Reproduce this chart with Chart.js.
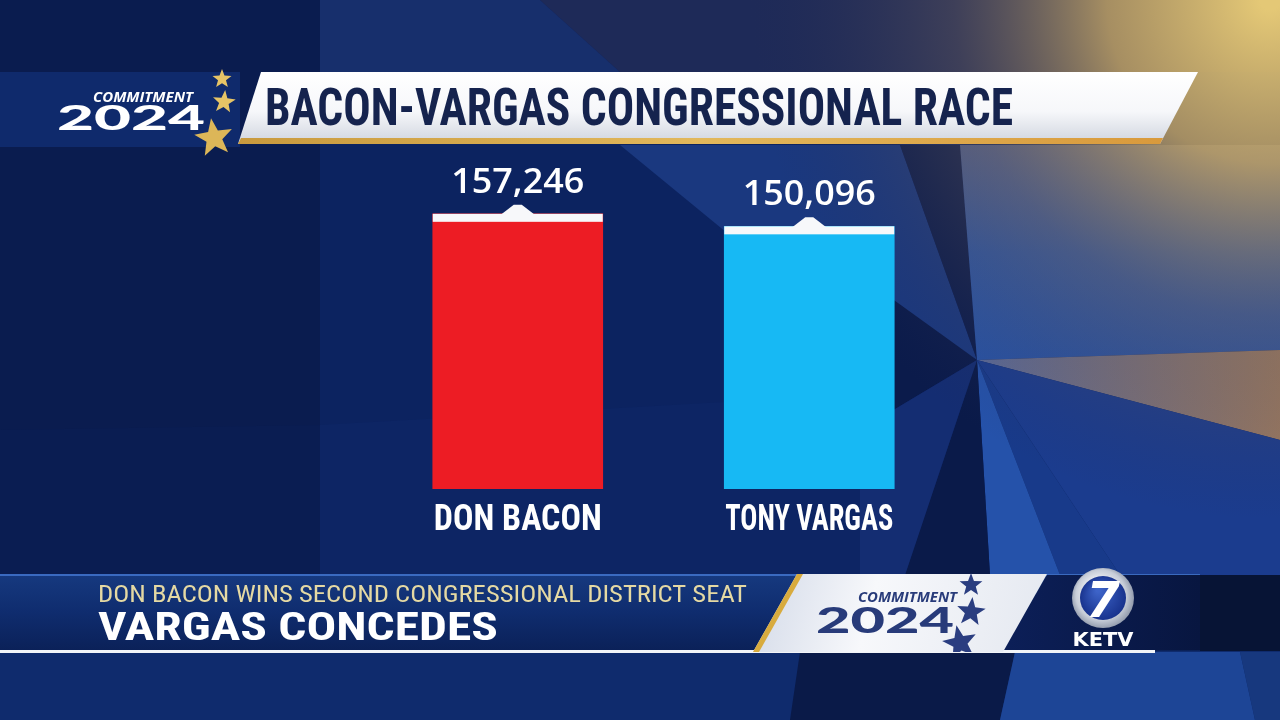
<!DOCTYPE html>
<html>
<head>
<meta charset="utf-8">
<title>Bacon-Vargas Congressional Race</title>
<script src="https://cdn.jsdelivr.net/npm/chart.js@4"></script>
<style>
  html, body { margin: 0; padding: 0; background: #0b2058; overflow: hidden; }
  canvas { display: block; }
</style>
</head>
<body>
<canvas id="myChart" width="1280" height="720"></canvas>
<script>
// dados do grafico
const candidatos = ['DON BACON', 'TONY VARGAS']
const votos = [157246, 150096]
const cores = ['#ED1C24', '#17B9F4']

const titulo = 'BACON-VARGAS CONGRESSIONAL RACE'
const manchete = 'DON BACON WINS SECOND CONGRESSIONAL DISTRICT SEAT'
const subtitulo = 'VARGAS CONCEDES'

const NARROW = "'Liberation Sans Narrow', 'Roboto Condensed', 'DejaVu Sans Condensed', sans-serif"

function poly(c, pts, fill) {
  c.beginPath()
  c.moveTo(pts[0][0], pts[0][1])
  for (let i = 1; i < pts.length; i++) c.lineTo(pts[i][0], pts[i][1])
  c.closePath()
  c.fillStyle = fill
  c.fill()
}

// texto ajustado a uma largura
function fitText(c, text, x, y, w, font, color, align) {
  c.save()
  c.font = font
  c.textBaseline = 'alphabetic'
  c.textAlign = align || 'left'
  const m = c.measureText(text).width
  c.translate(x, y)
  c.scale(w / m, 1)
  c.fillStyle = color
  c.fillText(text, 0, 0)
  c.restore()
}

function star(c, cx, cy, r, fill, rot) {
  const pts = []
  for (let i = 0; i < 10; i++) {
    const a = -Math.PI / 2 + (rot || 0) + i * Math.PI / 5
    const rr = i % 2 === 0 ? r : r * 0.42
    pts.push([cx + rr * Math.cos(a), cy + rr * Math.sin(a)])
  }
  poly(c, pts, fill)
}

const fundo = {
  id: 'fundo',
  beforeDraw(chart) {
    const c = chart.ctx
    c.save()
    // base
    c.fillStyle = '#0c2360'
    c.fillRect(0, 0, 1280, 720)
    c.fillStyle = '#0a1c4f'
    c.fillRect(0, 0, 320, 720)

    // top shards
    poly(c, [[320, 0], [540, 0], [620, 72], [320, 72]], '#172f6c')
    poly(c, [[540, 0], [1280, 0], [1280, 72], [620, 72]], '#1e2a58')

    // floor
    poly(c, [[320, 425], [760, 400], [977, 360], [900, 575], [320, 575]], '#0d2564')
    poly(c, [[0, 430], [320, 425], [320, 575], [0, 575]], '#0a1d52')

    // shards around bars
    poly(c, [[620, 145], [900, 145], [977, 360], [760, 260]], '#1a387f')
    poly(c, [[900, 145], [960, 145], [977, 360]], '#0c1c4c')
    poly(c, [[880, 290], [977, 360], [860, 430], [800, 380]], '#0b1b4b')

    // starburst
    const O = [977, 360]
    let g = c.createLinearGradient(0, 145, 0, 360)
    g.addColorStop(0, '#4f6090')
    g.addColorStop(0.5, '#2f57a4')
    g.addColorStop(1, '#2853a6')
    poly(c, [O, [960, 145], [1280, 145], [1280, 350]], g)
    g = c.createLinearGradient(977, 0, 1280, 0)
    g.addColorStop(0, '#5a6a9a')
    g.addColorStop(1, '#a07d62')
    poly(c, [O, [1280, 350], [1280, 440]], g)
    poly(c, [O, [1280, 440], [1280, 575], [1120, 575]], '#1b3c8e')
    poly(c, [O, [1120, 575], [1060, 575]], '#183a8a')
    poly(c, [O, [1060, 575], [990, 575]], '#2552aa')
    poly(c, [O, [990, 575], [905, 575]], '#0a1a49')
    poly(c, [O, [905, 575], [860, 575], [860, 430]], '#142d72')

    // bottom strip
    c.fillStyle = '#0f2b6d'
    c.fillRect(0, 650, 1280, 70)
    poly(c, [[800, 652], [1015, 652], [1000, 720], [790, 720]], '#0a1a48')
    poly(c, [[1015, 652], [1240, 652], [1255, 720], [1000, 720]], '#1d4596')
    poly(c, [[1240, 652], [1280, 652], [1280, 720], [1255, 720]], '#17387e')

    // gold glow top right
    g = c.createRadialGradient(1270, 0, 10, 1270, 0, 520)
    g.addColorStop(0, 'rgba(228,200,118,1)')
    g.addColorStop(0.3, 'rgba(190,160,100,0.85)')
    g.addColorStop(0.6, 'rgba(110,95,90,0.4)')
    g.addColorStop(1, 'rgba(40,45,80,0)')
    c.fillStyle = g
    c.fillRect(0, 0, 1280, 720)

    // title band
    c.fillStyle = '#0f2a6c'
    c.fillRect(0, 72, 240, 75)
    g = c.createLinearGradient(0, 72, 0, 144)
    g.addColorStop(0, '#ffffff')
    g.addColorStop(0.55, '#f6f7fa')
    g.addColorStop(1, '#cfd4de')
    poly(c, [[261, 72], [1198, 72], [1160, 144], [238, 144]], g)
    g = c.createLinearGradient(240, 0, 1160, 0)
    g.addColorStop(0, '#c99a3e')
    g.addColorStop(0.5, '#e2b85c')
    g.addColorStop(1, '#d99a3c')
    poly(c, [[241, 138], [1163, 138], [1160, 144], [238, 144]], g)
    fitText(c, titulo, 265, 125, 748, 'bold 51px ' + NARROW, '#15234e')

    // logo commitment 2024
    fitText(c, 'COMMITMENT', 93, 102, 100, 'italic bold 15px "Open Sans"', '#ffffff')
    fitText(c, '2024', 57, 130, 148, '900 34px Lato', '#ffffff')
    star(c, 222, 79, 10, '#e6c466')
    star(c, 224, 102, 12, '#e6c466', 0.1)
    star(c, 214, 138, 20, '#dcb658', -0.15)

    // lower third
    g = c.createLinearGradient(0, 575, 0, 651)
    g.addColorStop(0, '#16397f')
    g.addColorStop(0.5, '#0f2c6e')
    g.addColorStop(1, '#0b2158')
    c.fillStyle = g
    c.fillRect(0, 575, 1200, 76)
    c.fillStyle = '#071435'
    c.fillRect(1200, 575, 80, 76)
    c.fillStyle = '#3a6ac0'
    c.fillRect(0, 574, 1200, 2)
    c.fillStyle = '#f2f4f8'
    c.fillRect(0, 650, 1155, 3)
    fitText(c, manchete, 98, 602, 649, '24px ' + NARROW, '#e5d9a3')
    fitText(c, subtitulo, 98, 640, 400, 'bold 38px ' + NARROW, '#ffffff')

    // logo area
    g = c.createLinearGradient(1003, 0, 1200, 0)
    g.addColorStop(0, '#0c1f58')
    g.addColorStop(1, '#081640')
    poly(c, [[1047, 575], [1200, 575], [1200, 650], [1003, 650]], g)

    // white panel
    g = c.createLinearGradient(753, 574, 1047, 652)
    g.addColorStop(0, '#d3dae8')
    g.addColorStop(0.4, '#f7f8fb')
    g.addColorStop(1, '#e4e8f0')
    poly(c, [[797, 574], [1047, 574], [1003, 652], [753, 652]], g)
    poly(c, [[797, 574], [803, 574], [759, 652], [753, 652]], '#d8ab3e')
    fitText(c, 'COMMITMENT', 858, 602, 99, 'italic bold 14px "Open Sans"', '#283b7a')
    fitText(c, '2024', 816, 633, 138, '900 36px Lato', '#283b7a')
    star(c, 971, 585, 12, '#2a3d80')
    star(c, 971, 612, 15, '#2a3d80', 0.1)
    c.save()
    c.beginPath()
    c.rect(900, 574, 200, 78)
    c.clip()
    star(c, 960, 643, 18, '#2a3d80', -0.2)
    c.restore()

    // KETV 7
    g = c.createRadialGradient(1096, 588, 4, 1103, 598, 34)
    g.addColorStop(0, '#ffffff')
    g.addColorStop(0.7, '#c7cdd8')
    g.addColorStop(1, '#7e889c')
    c.beginPath()
    c.ellipse(1103, 598, 31, 30, 0, 0, Math.PI * 2)
    c.fillStyle = g
    c.fill()
    g = c.createRadialGradient(1098, 590, 2, 1103, 598, 24)
    g.addColorStop(0, '#3d63c8')
    g.addColorStop(1, '#16308a')
    c.beginPath()
    c.ellipse(1103, 598, 23, 22, 0, 0, Math.PI * 2)
    c.fillStyle = g
    c.fill()
    fitText(c, '7', 1103, 617, 34, 'italic bold 50px "DejaVu Sans"', '#ffffff', 'center')
    fitText(c, 'KETV', 1103, 646, 61, 'bold 19px "DejaVu Sans"', '#ffffff', 'center')

    c.restore()
  }
}

// tampa branca, valores e nomes
const rotulos = {
  id: 'rotulos',
  afterDatasetsDraw(chart) {
    const c = chart.ctx
    const meta = chart.getDatasetMeta(0)
    const fundoY = chart.chartArea.bottom
    c.save()
    meta.data.forEach((bar, i) => {
      const x = bar.x
      const y = bar.y
      const w = bar.width
      c.fillStyle = '#f7f8fa'
      c.fillRect(x - w / 2, y, w, 8)
      poly(c, [[x - 17, y + 1], [x - 4, y - 9], [x + 4, y - 9], [x + 17, y + 1]], '#f7f8fa')
      fitText(c, votos[i].toLocaleString('en-US'), x, y - 21, 133, '600 35px "Open Sans"', '#ffffff', 'center')
      fitText(c, candidatos[i], x, fundoY + 41, w - 2, 'bold 36px ' + NARROW, '#ffffff', 'center')
    })
    c.restore()
  }
}

const ctx = document.getElementById('myChart')

const data = {
  labels: candidatos,
  datasets: [{
    data: votos,
    backgroundColor: cores,
    borderWidth: 0,
    barThickness: 170
  }]
}

const config = {
  type: 'bar',
  data: data,
  options: {
    responsive: false,
    animation: false,
    devicePixelRatio: 1,
    layout: {
      padding: { left: 372, right: 325, top: 174, bottom: 231 }
    },
    scales: {
      x: { display: false },
      y: { display: false, min: 0, max: 180000 }
    },
    plugins: {
      legend: { display: false },
      tooltip: { enabled: false }
    }
  },
  plugins: [fundo, rotulos]
}

const myChart = new Chart(ctx, config)
</script>
</body>
</html>
